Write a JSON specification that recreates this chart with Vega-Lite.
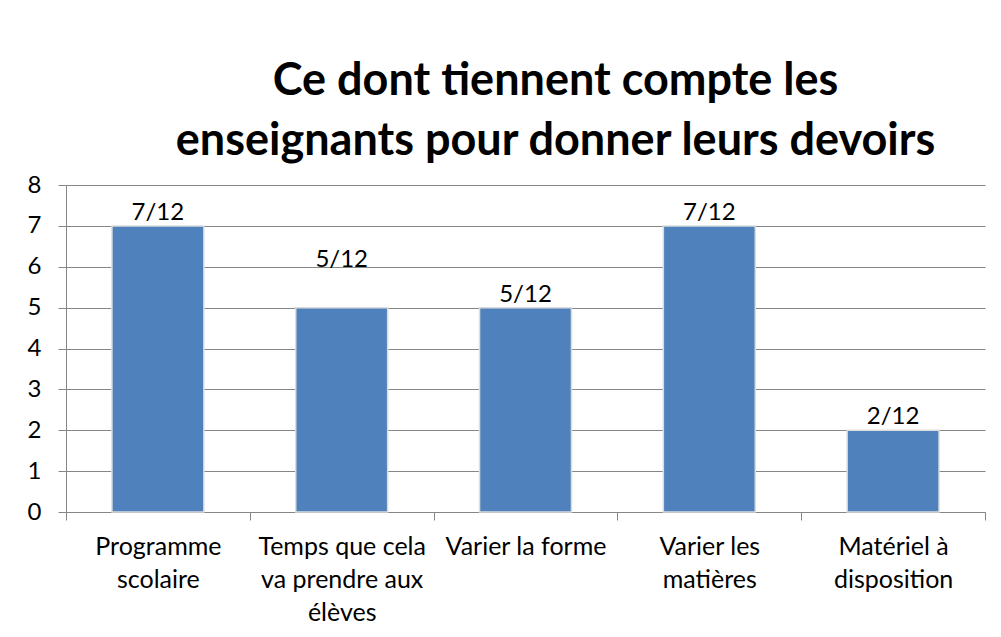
{
  "$schema": "https://vega.github.io/schema/vega-lite/v6.json",
  "autosize": {"type": "none"},
  "width": 919,
  "height": 327,
  "padding": {"left": 66, "top": 185, "right": 16, "bottom": 125},
  "background": "white",
  "title": {
    "text": ["Ce dont tiennent compte les", "enseignants pour donner leurs devoirs"],
    "font": "Lato",
    "fontSize": 45,
    "fontWeight": "bold",
    "color": "black",
    "lineHeight": 60,
    "anchor": "middle",
    "frame": "group",
    "baseline": "bottom",
    "dx": 30,
    "offset": -36
  },
  "data": {
    "values": [
      {"cat": "Programme|scolaire", "value": 7, "label": "7/12"},
      {"cat": "Temps que cela|va prendre aux|élèves", "value": 5, "label": "5/12"},
      {"cat": "Varier la forme", "value": 5, "label": "5/12"},
      {"cat": "Varier les|matières", "value": 7, "label": "7/12"},
      {"cat": "Matériel à|disposition", "value": 2, "label": "2/12"}
    ]
  },
  "encoding": {
    "x": {
      "field": "cat",
      "type": "nominal",
      "sort": null,
      "scale": {"paddingInner": 0, "paddingOuter": 0},
      "axis": {
        "title": null,
        "labelAngle": 0,
        "labelExpr": "split(datum.label, '|')",
        "labelFont": "Lato",
        "labelFontSize": 25,
        "labelColor": "black",
        "labelLineHeight": 33,
        "labelPadding": 14,
        "labelBaseline": "top",
        "tickBand": "extent",
        "tickSize": 8,
        "tickColor": "#868686",
        "domainColor": "#868686",
        "grid": false
      }
    },
    "y": {
      "field": "value",
      "type": "quantitative",
      "scale": {"domain": [0, 8], "nice": false},
      "axis": {
        "title": null,
        "values": [0, 1, 2, 3, 4, 5, 6, 7, 8],
        "labelFont": "Lato",
        "labelFontSize": 24,
        "labelColor": "black",
        "labelPadding": 17,
        "tickSize": 8,
        "tickColor": "#868686",
        "domainColor": "#868686",
        "grid": true,
        "gridColor": "#868686",
        "gridOpacity": 1
      }
    }
  },
  "layer": [
    {
      "mark": {"type": "bar", "color": "#4F81BD", "stroke": "#dcdcdc", "strokeWidth": 1.5, "width": {"band": 0.5}}
    },
    {
      "transform": [{"filter": "datum.cat != 'Temps que cela|va prendre aux|élèves'"}],
      "mark": {"type": "text", "font": "Lato", "fontSize": 24, "color": "black", "baseline": "alphabetic", "dy": -6},
      "encoding": {"text": {"field": "label"}}
    },
    {
      "transform": [{"filter": "datum.cat == 'Temps que cela|va prendre aux|élèves'"}],
      "mark": {"type": "text", "font": "Lato", "fontSize": 24, "color": "black", "baseline": "alphabetic", "dy": -41},
      "encoding": {"text": {"field": "label"}}
    }
  ],
  "config": {"view": {"stroke": null}}
}
